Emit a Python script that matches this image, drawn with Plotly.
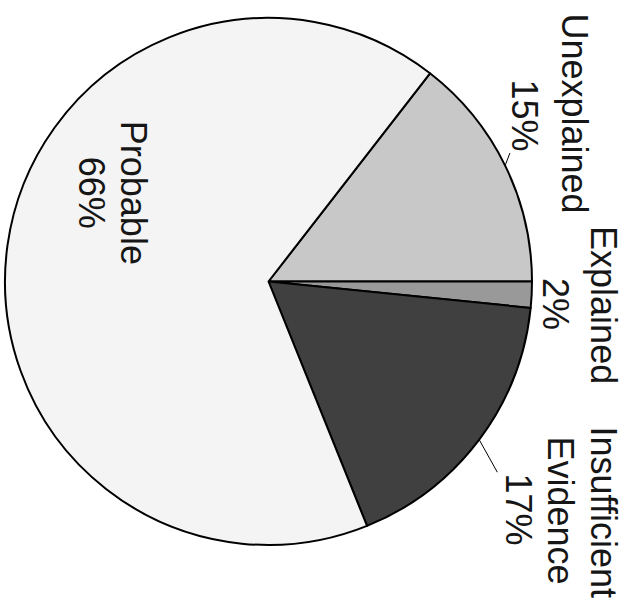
import math
import plotly.graph_objects as go

# ---- data ----
labels = ["Unexplained", "Explained", "Insufficient Evidence", "Probable"]
values = [14.5, 1.6, 17.3, 66.6]
pct_labels = ["15%", "2%", "17%", "66%"]
colors = ["#c8c8c8", "#999999", "#404040", "#f4f4f4"]

W, H = 626, 602
dom_x = [5 / W, 532 / W]
dom_y = [(H - 545) / H, (H - 18) / H]
rotation = 37.8  # clockwise from 12 o'clock, start of first slice

fig = go.Figure(go.Pie(
    labels=labels, values=values, sort=False, direction="clockwise",
    rotation=rotation, textinfo="none", hoverinfo="label+percent",
    marker=dict(colors=colors, line=dict(color="#000000", width=2)),
    domain=dict(x=dom_x, y=dom_y), showlegend=False,
))

# pie geometry in pixels (derived from domain)
cx = (dom_x[0] + dom_x[1]) / 2 * W
cy = (1 - (dom_y[0] + dom_y[1]) / 2) * H
r = min((dom_x[1] - dom_x[0]) * W, (dom_y[1] - dom_y[0]) * H) / 2
total = sum(values)

def mid_point(i, frac):
    start = rotation + 360 * sum(values[:i]) / total
    mid = math.radians(start + 180 * values[i] / total)
    px = cx + frac * r * math.sin(mid)
    py = cy - frac * r * math.cos(mid)
    return px / W, 1 - py / H

# per-slice text lines: (text, dx, dy, arrow)
line_specs = [
    [("Unexplained", 69, -52, False), (pct_labels[0], 19, -50, True)],
    [("Explained", 72, 10, False), (pct_labels[1], 24, 9, False)],
    [("Insufficient", 124, 72, False), ("Evidence", 81, 71, False), (pct_labels[2], 39, 70, True)],
    [("Probable", 21, -67, False), (pct_labels[3], -21, -67, False)],
]
fracs = [1.0, 1.0, 1.0, 0.6]
font = dict(family="Arial, Liberation Sans, sans-serif", size=36, color="#161616")

for i, specs in enumerate(line_specs):
    ax_, ay_ = mid_point(i, fracs[i])
    for text, dx, dy, arrow in specs:
        if arrow:
            fig.add_annotation(x=ax_, y=ay_, xref="paper", yref="paper", text=text,
                               textangle=90, font=font, showarrow=True, ax=dx, ay=dy,
                               xanchor="center", yanchor="middle",
                               arrowhead=0, arrowwidth=1, arrowcolor="#000000")
        else:
            fig.add_annotation(x=ax_, y=ay_, xref="paper", yref="paper", text=text,
                               textangle=90, font=font, showarrow=False,
                               xanchor="center", yanchor="middle",
                               xshift=dx, yshift=-dy)

fig.update_layout(width=W, height=H, margin=dict(l=0, r=0, t=0, b=0),
                  paper_bgcolor="#ffffff", plot_bgcolor="#ffffff")
fig.write_html("out.html", config={"displayModeBar": False},
               post_script="document.body.style.margin='0px';")
